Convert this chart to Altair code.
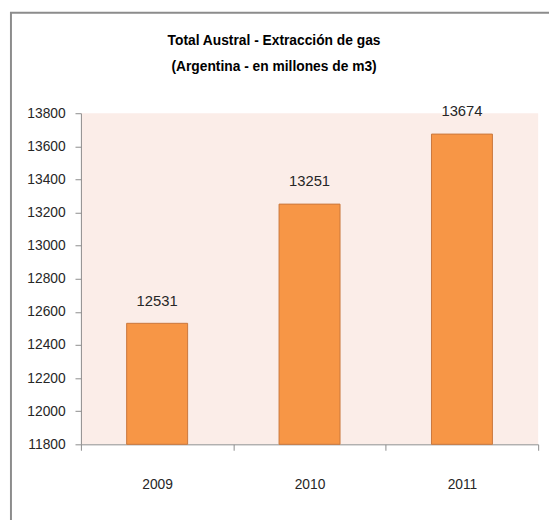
import altair as alt
import pandas as pd

years = ["2009", "2010", "2011"]
values = [12531, 13251, 13674]
y_ticks = [11800, 12000, 12200, 12400, 12600, 12800, 13000, 13200, 13400, 13600, 13800]
title_lines = ["Total Austral - Extracción de gas", "(Argentina - en millones de m3)"]

df = pd.DataFrame({"year": years, "value": values, "base": [y_ticks[0]] * len(years)})

FONT = "Liberation Sans, Arial, sans-serif"

x = alt.X(
    "year:N",
    sort=years,
    scale=alt.Scale(paddingInner=0, paddingOuter=0),
    axis=alt.Axis(
        title=None, labelAngle=0, tickBand="extent", tickSize=6,
        labelPadding=28, labelFont=FONT, labelFontSize=14, labelColor="#262626",
        domainColor="#8c8c8c", tickColor="#8c8c8c",
    ),
)
y_scale = alt.Scale(domain=[y_ticks[0], y_ticks[-1]], zero=False, nice=False)
y_axis = alt.Axis(
    title=None, values=y_ticks, format="d", labelOverlap=False, grid=False,
    tickSize=6, labelPadding=10,
    labelFont=FONT, labelFontSize=14, labelColor="#262626",
    domainColor="#8c8c8c", tickColor="#8c8c8c",
)
y = alt.Y("value:Q", scale=y_scale, axis=y_axis)

bars = alt.Chart(df).mark_bar(
    width=alt.RelativeBandSize(0.4), color="#F79646", stroke="#C9773C", strokeWidth=1
).encode(x=x, y=y, y2="base:Q")

labels = alt.Chart(df).mark_text(
    font=FONT, fontSize=15, color="#262626", baseline="alphabetic", dy=-18
).encode(x=x, y=y, text="value:Q")

frame = alt.Chart(alt.Data(values=[{}])).mark_rect(
    fill="transparent", stroke="#8c8c8c", strokeWidth=2, clip=False
).encode(
    x=alt.value(-71), x2=alt.value(700), y=alt.value(-102), y2=alt.value(700)
)

chart = alt.layer(frame, bars, labels).properties(
    width=464,
    height=336,
    background="white",
    autosize=alt.AutoSizeParams(type="none"),
    padding={"left": 74, "top": 103, "right": 11, "bottom": 73},
    title=alt.TitleParams(
        title_lines, font=FONT, fontSize=14, fontWeight="bold", color="black",
        anchor="middle", frame="group", dx=-36, dy=63, lineHeight=26, offset=0,
    ),
).configure_view(fill="#FBEDE8", stroke=None)

chart.save("out.html", embed_options={"renderer": "svg", "actions": False})
